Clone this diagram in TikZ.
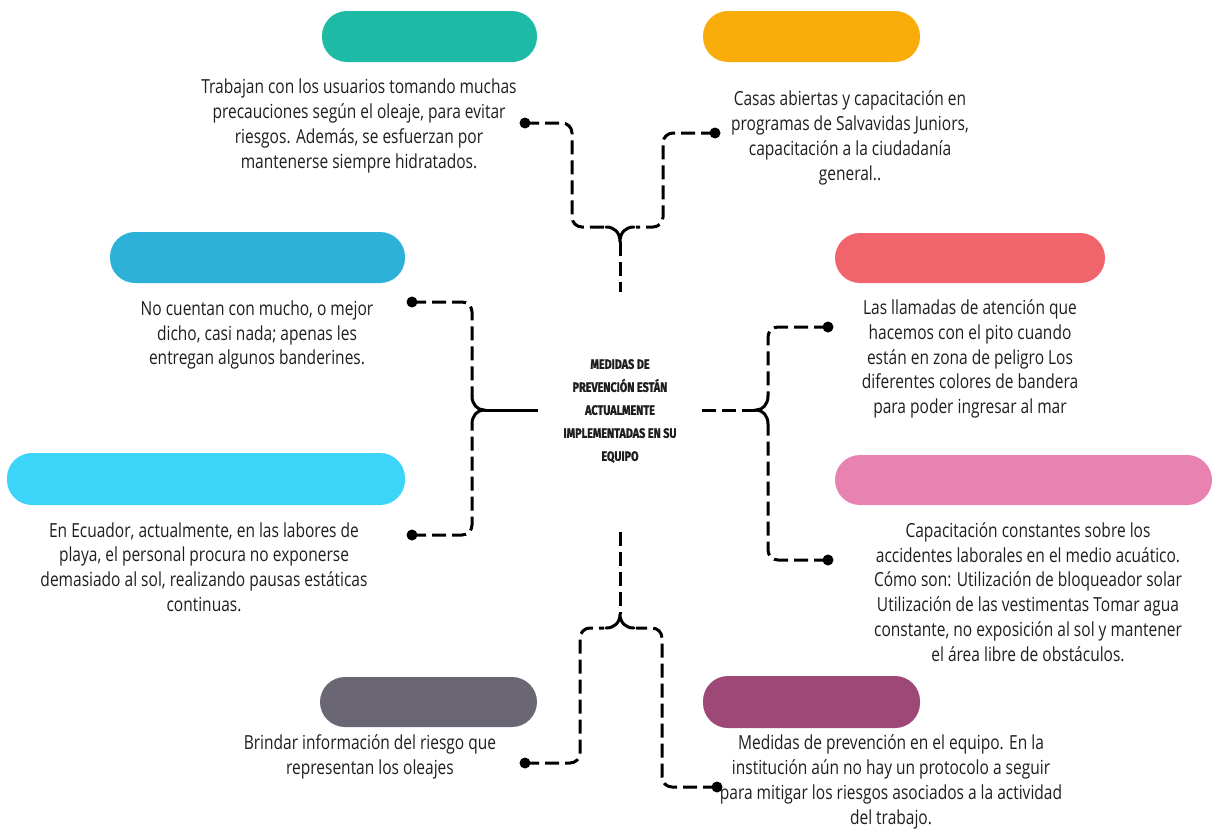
\documentclass[tikz,border=0pt]{standalone}
\usepackage{fontspec}
\setmainfont{Open Sans}[FakeStretch=0.8]
\newfontfamily\headfont{Fira Sans}[FakeStretch=0.8,UprightFont=*-Bold,FakeBold=1.5]
\usetikzlibrary{calc}
\definecolor{cteal}{RGB}{29,186,165}
\definecolor{corange}{RGB}{249,173,11}
\definecolor{cblue}{RGB}{46,177,216}
\definecolor{cred}{RGB}{242,100,107}
\definecolor{clight}{RGB}{61,212,250}
\definecolor{cpink}{RGB}{232,130,176}
\definecolor{cgrey}{RGB}{106,102,116}
\definecolor{cpurple}{RGB}{158,72,120}
\definecolor{ctext}{RGB}{30,30,30}
\tikzset{
  pill/.style={rounded corners=25pt, inner sep=0pt, draw=none},
  txt/.style={align=center, text=ctext, inner sep=0pt, font=\fontsize{19.4}{24.8}\selectfont},
  head/.style={align=center, text=ctext, inner sep=0pt, font=\headfont\fontsize{13.5}{23}\selectfont},
  conn/.style={line width=3pt, draw=black, dash pattern=on 14pt off 6pt, rounded corners=10pt},
  solidconn/.style={line width=3pt, draw=black},
  cusp/.style={line width=3pt, draw=black, line cap=round},
  dot/.style={circle, fill=black, inner sep=0pt, minimum size=11pt}
}
\begin{document}
\begin{tikzpicture}[x=1pt,y=-1pt]
\useasboundingbox (0,0) rectangle (1213,838);
% pills
\fill[cteal, pill] (322,11) rectangle (537,62);
\node[inner sep=0pt] (p1) at (429.5,36.5) {};
\fill[corange, pill] (703,11) rectangle (920,62);
\node[inner sep=0pt] (p2) at (811.5,36.5) {};
\fill[cblue, pill] (110,232) rectangle (405,283);
\node[inner sep=0pt] (p3) at (257.5,257.5) {};
\fill[cred, pill] (835,233) rectangle (1105,283);
\node[inner sep=0pt] (p4) at (970,258) {};
\fill[clight, pill] (7,453) rectangle (405,505);
\node[inner sep=0pt] (p5) at (206,479) {};
\fill[cpink, pill] (835,455) rectangle (1212,505);
\node[inner sep=0pt] (p6) at (1023,480) {};
\fill[cgrey, pill] (320,677) rectangle (537,727);
\node[inner sep=0pt] (p7) at (428.5,702) {};
\fill[cpurple, pill] (703,676) rectangle (920,728);
\node[inner sep=0pt] (p8) at (811.5,702) {};

% texts
\node[txt] (t1) at (359,126) {Trabajan con los usuarios tomando muchas\\precauciones según el oleaje, para evitar\\riesgos. Además, se esfuerzan por\\mantenerse siempre hidratados.};
\node[txt] (t2) at (850,138) {Casas abiertas y capacitación en\\programas de Salvavidas Juniors,\\capacitación a la ciudadanía\\general..};
\node[txt] (t3) at (257,335) {No cuentan con mucho, o mejor\\dicho, casi nada; apenas les\\entregan algunos banderines.};
\node[txt] (t4) at (970,359) {Las llamadas de atención que\\hacemos con el pito cuando\\están en zona de peligro Los\\diferentes colores de bandera\\para poder ingresar al mar};
\node[txt] (t5) at (204,567) {En Ecuador, actualmente, en las labores de\\playa, el personal procura no exponerse\\demasiado al sol, realizando pausas estáticas\\continuas.};
\node[txt] (t6) at (1028,592) {Capacitación constantes sobre los\\accidentes laborales en el medio acuático.\\Cómo son: Utilización de bloqueador solar\\Utilización de las vestimentas Tomar agua\\constante, no exposición al sol y mantener\\el área libre de obstáculos.};
\node[txt] (t7) at (370,757) {Brindar información del riesgo que\\representan los oleajes};
\node[txt] (t8) at (891,782) {Medidas de prevención en el equipo. En la\\institución aún no hay un protocolo a seguir\\para mitigar los riesgos asociados a la actividad\\del trabajo.};

% center
\node[head] (c) at (620,411) {MEDIDAS DE\\PREVENCIÓN ESTÁN\\ACTUALMENTE\\IMPLEMENTADAS EN SU\\EQUIPO};

% dots
\node[dot] (d1) at (525,123) {};
\node[dot] (d2) at (715,133) {};
\node[dot] (d3) at (412,302) {};
\node[dot] (d4) at (412,535) {};
\node[dot] (d5) at (828,327) {};
\node[dot] (d6) at (828,560) {};
\node[dot] (d7) at (525,763) {};
\node[dot] (d8) at (717,787) {};

% brace tips and stem ends
\coordinate (ctop) at (620,242);
\coordinate (stop) at (620,292);
\coordinate (cleft) at (484,410);
\coordinate (sleft) at (538,410);
\coordinate (cright) at (756,410);
\coordinate (sright) at (702,410);
\coordinate (cbot) at (620,614);
\coordinate (sbot) at (620,532);

% top bracket
\draw[conn] (d1.center) -- (572,123) -- (572,227) -- (604,227);
\draw[conn] (d2.center) -- (663,133) -- (663,227) -- (636,227);
\draw[cusp] (606,227) .. controls (614,227) and (620,232) .. (ctop) .. controls (620,232) and (626,227) .. (634,227);
\draw[conn] (ctop) -- (stop);

% left bracket
\draw[conn] (d3.center) -- (472,302) -- (472,396);
\draw[conn] (d4.center) -- (472,535) -- (472,424);
\draw[cusp] (472,396) .. controls (472,404) and (477,410) .. (cleft) .. controls (477,410) and (472,416) .. (472,424);
\draw[solidconn] (cleft) -- (sleft);

% right bracket
\draw[conn] (d5.center) -- (768,327) -- (768,396);
\draw[conn] (d6.center) -- (768,560) -- (768,424);
\draw[cusp] (768,396) .. controls (768,404) and (763,410) .. (cright) .. controls (763,410) and (768,416) .. (768,424);
\draw[conn] (sright) -- (cright);

% bottom bracket
\draw[conn] (d7.center) -- (580,763) -- (580,628) -- (604,628);
\draw[conn] (d8.center) -- (662,787) -- (662,628) -- (636,628);
\draw[cusp] (606,628) .. controls (614,628) and (620,623) .. (cbot) .. controls (620,623) and (626,628) .. (634,628);
\draw[conn] (sbot) -- (cbot);
\end{tikzpicture}
\end{document}
